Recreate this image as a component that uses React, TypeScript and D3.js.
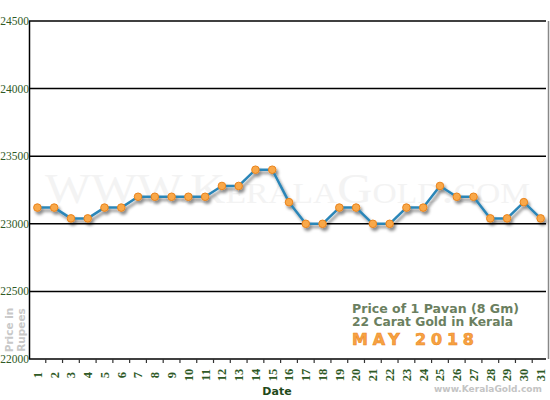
import * as d3 from "d3";

const DAYS = d3.range(1, 32).map(String);
const PRICES = [
  23120, 23120, 23040, 23040, 23120, 23120, 23200, 23200, 23200, 23200,
  23200, 23280, 23280, 23400, 23400, 23160, 23000, 23000, 23120, 23120,
  23000, 23000, 23120, 23120, 23280, 23200, 23200, 23040, 23040, 23160,
  23040,
];
const Y_TICKS = [22000, 22500, 23000, 23500, 24000, 24500];

const W = 550;
const H = 400;
const ML = 29;
const MR = 1;
const MT = 21;
const MB = 41;
const GRID_END = 546;

export default function App() {
  const x = d3.scaleBand<string>().domain(DAYS).range([ML, W - MR]);
  const y = d3.scaleLinear().domain([22000, 24500]).range([H - MB, MT]);
  const cx = (d: string) => (x(d) ?? 0) + x.bandwidth() / 2;

  const line = d3
    .line<number>()
    .x((_, i) => cx(DAYS[i]))
    .y((v) => y(v));

  const green = "#2f5a26";

  return (
    <svg
      width={W}
      height={H}
      style={{ position: "absolute", left: 0, top: 0, background: "#fff" }}
    >
      <defs>
        <filter id="shadow" x="-10%" y="-10%" width="120%" height="140%">
          <feDropShadow dx="2" dy="3" stdDeviation="1.6" floodColor="#000" floodOpacity="0.45" />
        </filter>
      </defs>

      {/* watermark */}
      <text
        x={45}
        y={203}
        textLength={485}
        lengthAdjust="spacingAndGlyphs"
        fontFamily="'Liberation Serif', serif"
        fontSize={42}
        fill="#f3f3f3"
        style={{ fontVariant: "small-caps" }}
      >
        WWW.KeralaGold.com
      </text>

      {/* grid */}
      <g stroke="#000" strokeWidth={1.5}>
        {Y_TICKS.map((t) => (
          <line key={t} x1={ML} x2={GRID_END} y1={y(t)} y2={y(t)} />
        ))}
        <line x1={ML + 0.5} x2={ML + 0.5} y1={MT} y2={H - MB} />
        {DAYS.slice(1).map((d) => (
          <line
            key={d}
            x1={x(d)}
            x2={x(d)}
            y1={H - MB}
            y2={H - MB + 4}
            strokeWidth={1.2}
            stroke="#333"
          />
        ))}
      </g>
      <line x1={548.5} x2={548.5} y1={MT} y2={H - MB} stroke="#888" strokeWidth={1.5} />

      {/* y labels */}
      <g fontFamily="'Liberation Serif', serif" fontSize={11.5} fill={green}>
        {Y_TICKS.map((t) => (
          <text key={t} x={ML} y={y(t)} dy="0.35em" textAnchor="end">
            {t}
          </text>
        ))}
      </g>

      {/* x labels */}
      <g fontFamily="'Liberation Serif', serif" fontSize={12.5} fontWeight="bold" fill={green}>
        {DAYS.map((d) => (
          <text
            key={d}
            transform={`translate(${cx(d)},375) rotate(-90)`}
            textAnchor="middle"
            dy="0.35em"
          >
            {d}
          </text>
        ))}
      </g>

      <text
        x={277}
        y={395}
        textAnchor="middle"
        fontFamily="'DejaVu Sans', Verdana, sans-serif"
        fontWeight="bold"
        fontSize={11}
        fill="#1f4a1a"
      >
        Date
      </text>

      <g
        fontFamily="'DejaVu Sans', Verdana, sans-serif"
        fontWeight="bold"
        fontSize={10.5}
        fill="#c8c8c8"
        textAnchor="middle"
      >
        <text transform="translate(13,330) rotate(-90)">Price in</text>
        <text transform="translate(24.5,330) rotate(-90)">Rupees</text>
      </g>

      {/* legend */}
      <g fontFamily="'DejaVu Sans', Verdana, sans-serif" fontWeight="bold">
        <text x={352} y={312.5} fontSize={12} fill="#6b7f60" textLength={167} lengthAdjust="spacingAndGlyphs">
          Price of 1 Pavan (8 Gm)
        </text>
        <text x={352} y={326} fontSize={12} fill="#6b7f60" textLength={161} lengthAdjust="spacingAndGlyphs">
          22 Carat Gold in Kerala
        </text>
        <text
          x={352}
          y={345}
          fontSize={16}
          fill="#f6a245"
          stroke="#ee8a1c"
          strokeWidth={0.6}
          textLength={122}
          lengthAdjust="spacing"
        >
          MAY 2018
        </text>
        <text x={434} y={392} fontSize={9} fill="#c4c4c4">
          www.KeralaGold.com
        </text>
      </g>

      {/* series */}
      <g filter="url(#shadow)">
        <path d={line(PRICES) ?? ""} fill="none" stroke="#2c86b8" strokeWidth={2.5} strokeLinejoin="round" />
        {PRICES.map((v, i) => (
          <circle
            key={DAYS[i]}
            cx={cx(DAYS[i])}
            cy={y(v)}
            r={3.8}
            fill="#f9a848"
            stroke="#e9831c"
            strokeWidth={1}
          />
        ))}
      </g>
    </svg>
  );
}
